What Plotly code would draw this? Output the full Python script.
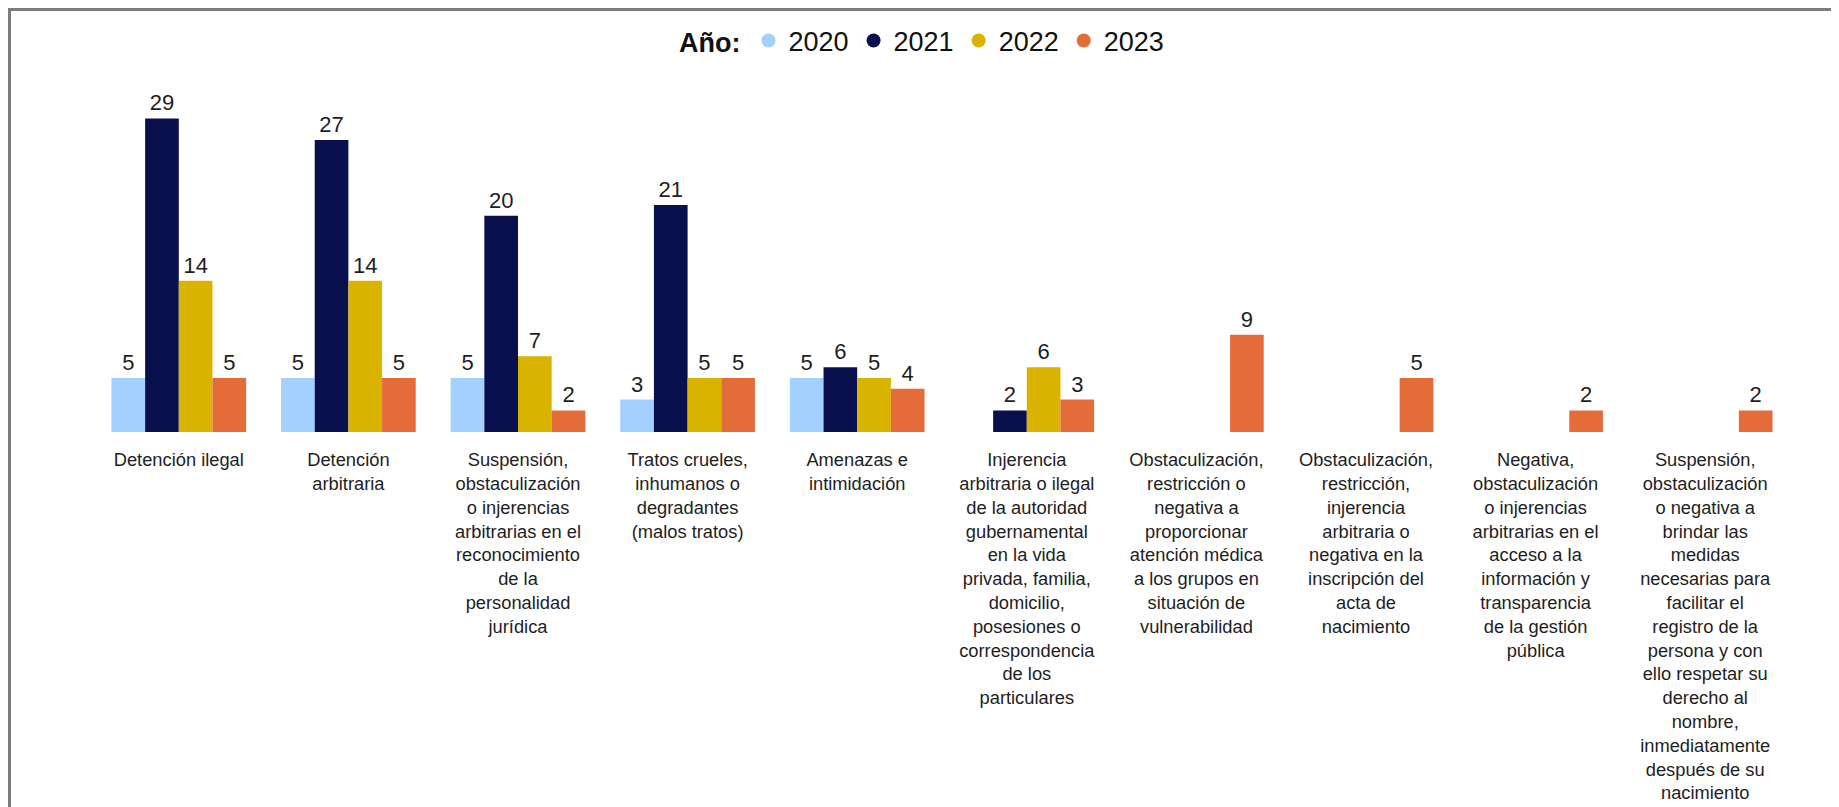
"""Vulneraciones por tipo de derecho y año — barras agrupadas."""

import plotly.graph_objects as go


COLOR_2020 = "#A2D0FF"
COLOR_2021 = "#0A104D"
COLOR_2022 = "#D9B300"
COLOR_2023 = "#E46C38"
COLOR_TEXT = "#1E1E1E"
COLOR_FRAME = "#7C7C7C"

FONT = "Arial, Liberation Sans, sans-serif"

CATEGORIAS = [
    "Detención ilegal",
    "Detención<br>arbitraria",
    "Suspensión,<br>obstaculización<br>o injerencias<br>arbitrarias en el<br>reconocimiento<br>de la<br>personalidad<br>jurídica",
    "Tratos crueles,<br>inhumanos o<br>degradantes<br>(malos tratos)",
    "Amenazas e<br>intimidación",
    "Injerencia<br>arbitraria o ilegal<br>de la autoridad<br>gubernamental<br>en la vida<br>privada, familia,<br>domicilio,<br>posesiones o<br>correspondencia<br>de los<br>particulares",
    "Obstaculización,<br>restricción o<br>negativa a<br>proporcionar<br>atención médica<br>a los grupos en<br>situación de<br>vulnerabilidad",
    "Obstaculización,<br>restricción,<br>injerencia<br>arbitraria o<br>negativa en la<br>inscripción del<br>acta de<br>nacimiento",
    "Negativa,<br>obstaculización<br>o injerencias<br>arbitrarias en el<br>acceso a la<br>información y<br>transparencia<br>de la gestión<br>pública",
    "Suspensión,<br>obstaculización<br>o negativa a<br>brindar las<br>medidas<br>necesarias para<br>facilitar el<br>registro de la<br>persona y con<br>ello respetar su<br>derecho al<br>nombre,<br>inmediatamente<br>después de su<br>nacimiento",
]

ANIOS = ["2020", "2021", "2022", "2023"]
VALORES_2020 = [5, 5, 5, 3, 5, None, None, None, None, None]
VALORES_2021 = [29, 27, 20, 21, 6, 2, None, None, None, None]
VALORES_2022 = [14, 14, 7, 5, 5, 6, None, None, None, None]
VALORES_2023 = [5, 5, 2, 5, 4, 3, 9, 5, 2, 2]

SERIES = [
    ("2020", VALORES_2020, COLOR_2020),
    ("2021", VALORES_2021, COLOR_2021),
    ("2022", VALORES_2022, COLOR_2022),
    ("2023", VALORES_2023, COLOR_2023),
]

# la página html deja 8px de margen en <body>
PAGE_OFFSET = 8
W, H = 1839 - PAGE_OFFSET, 807 - PAGE_OFFSET
M_L, M_R, M_T, M_B = 86, 49, 78, 375
PLOT_W = W - M_L - M_R
PLOT_H = H - M_T - M_B


def _px_to_paper(px_x, px_y):
    """pixel de la página -> coordenada paper (para el marco y la leyenda)."""
    x = (px_x - PAGE_OFFSET - M_L) / PLOT_W
    y = (H - M_B - (px_y - PAGE_OFFSET)) / PLOT_H
    return x, y


fig = go.Figure()

for anio, valores, color in SERIES:
    fig.add_trace(
        go.Bar(
            x=CATEGORIAS,
            y=valores,
            name=anio,
            marker=dict(color=color, line=dict(width=0)),
            text=[str(v) if v is not None else "" for v in valores],
            textposition="outside",
            textfont=dict(family=FONT, size=22, color=COLOR_TEXT),
            constraintext="none",
            cliponaxis=False,
            showlegend=False,
        )
    )
    # marcador circular solo para la leyenda
    fig.add_trace(
        go.Scatter(
            x=[None],
            y=[None],
            mode="markers",
            name=anio,
            marker=dict(symbol="circle", size=14, color=color),
            showlegend=True,
        )
    )

# marco gris (solo borde superior e izquierdo visibles en el recorte)
x0, y1 = _px_to_paper(9.5, 9.5)
x1, y0 = _px_to_paper(1839 + 30, 807 + 30)
fig.add_shape(
    type="rect", xref="paper", yref="paper",
    x0=x0, x1=x1, y0=y0, y1=y1,
    line=dict(color=COLOR_FRAME, width=3),
    fillcolor="rgba(0,0,0,0)",
    layer="below",
)

leg_x, leg_y = _px_to_paper(923, 41)
fig.update_layout(
    width=W,
    height=H,
    margin=dict(l=M_L, r=M_R, t=M_T, b=M_B, autoexpand=False),
    paper_bgcolor="white",
    plot_bgcolor="white",
    barmode="group",
    bargap=0.206,
    bargroupgap=0,
    font=dict(family=FONT, color=COLOR_TEXT),
    legend=dict(
        orientation="h",
        x=leg_x, xanchor="center",
        y=leg_y, yanchor="middle",
        title=dict(text="<b>Año:</b>", side="left", font=dict(family=FONT, size=27, color="#111111")),
        font=dict(family=FONT, size=27, color="#111111"),
        itemwidth=30,
        bgcolor="rgba(0,0,0,0)",
    ),
)
fig.update_xaxes(
    type="category",
    automargin=False,
    showgrid=False,
    showline=False,
    zeroline=False,
    ticks="",
    tickangle=0,
    ticklabelstandoff=15,
    tickfont=dict(family=FONT, size=18.3, color=COLOR_TEXT),
)
fig.update_yaxes(
    range=[0, 32],
    automargin=False,
    showgrid=False,
    showline=False,
    zeroline=False,
    showticklabels=False,
    ticks="",
)

fig.write_html("out.html")
